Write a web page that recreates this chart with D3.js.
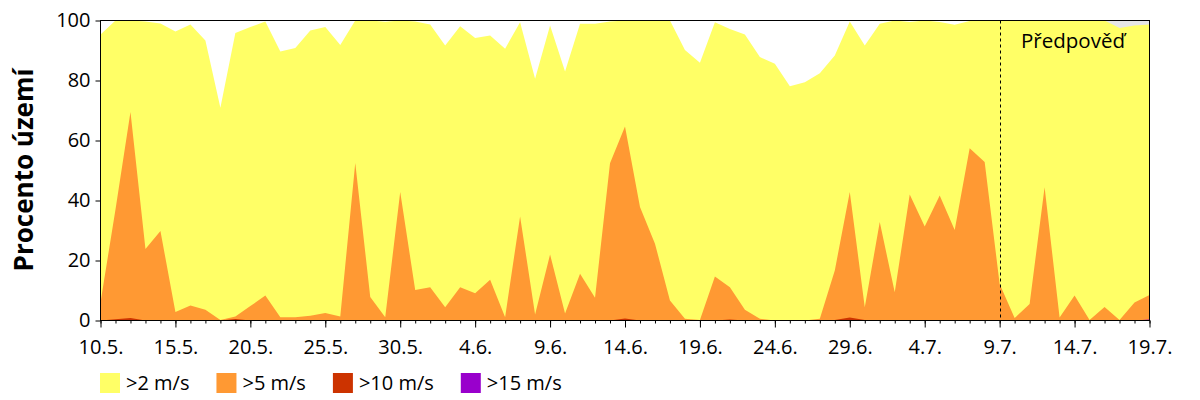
<!DOCTYPE html>
<html><head><meta charset="utf-8">
<script src="https://cdn.jsdelivr.net/npm/d3@7"></script>
<style>
body{margin:0;background:#fff}
svg{display:block}
text{font-family:"Open Sans",sans-serif;fill:#000}
</style>
</head><body>
<svg id="c" width="1200" height="400"></svg>
<script>
// ---- data ----
const startDate = new Date(2015, 4, 10);
const dates = d3.timeDay.range(startDate, new Date(2015, 6, 20)); // 10.5. .. 19.7.
const tickLabels = ["10.5.","15.5.","20.5.","25.5.","30.5.","4.6.","9.6.","14.6.","19.6.","24.6.","29.6.","4.7.","9.7.","14.7.","19.7."];
const yTicks = [0,20,40,60,80,100];
const seriesNames = [">2 m/s", ">5 m/s", ">10 m/s", ">15 m/s"];
const seriesColors = ["#FFFF66", "#FF9933", "#CC3300", "#9900CC"];
const forecastStartIndex = 60;
const forecastLabel = "Předpověď";
const yLabel = "Procento území";

const over2 = [95.3,100,100,99.7,99,96.3,98.7,93.3,70.9,95.8,
  97.8,99.7,89.7,90.8,96.7,97.8,91.8,100,100,99.6,
  100,99.7,98.7,91.7,98.1,94.2,95,90.6,99.4,80.6,
  98.3,83,98.9,98.9,99.7,100,100,100,100,90.2,
  85.9,99.4,97.2,95.3,87.8,85.6,78.1,79.4,82.4,88.3,
  99.7,91.7,98.9,100,99.5,100,99.5,98.6,99.8,100,
  100,100,100,100,100,100,100,100,97.5,98.3,98.7];
const over5 = [6,37,69.5,23.8,29.8,2.8,5,3.6,0.2,1.3,
  4.8,8.3,1.1,1.1,1.6,2.5,1.3,52.5,7.8,1.1,
  42.8,10.2,11.1,4.4,11.1,9.1,13.6,1.1,34.7,2,
  22,2.3,15.6,7.6,52.4,64.7,37.8,25.6,6.7,0.6,
  0.2,14.7,11.1,3.6,0.6,0,0,0,0.6,16.7,
  42.8,4.4,32.8,9.4,42,31.3,41.7,30.2,57.4,52.8,
  12.2,0.8,5.5,44.4,1,8.3,0.2,4.5,0.2,6,8.5];
const over10 = [0,0.4,0.8,0,0,0,0,0,0,0.5,
  0,0,0,0,0,0,0,0,0,0,
  0,0,0,0,0,0,0,0,0,0,
  0,0,0,0,0,0.7,0,0,0,0,
  0,0,0.3,0,0,0,0,0,0,0.2,
  1.0,0.2,0,0,0,0,0,0,0,0,
  0,0,0,0,0,0,0,0,0,0,0];
const over15 = [0,0,0,0,0,0,0,0,0,0,
  0,0,0,0,0,0,0,0,0,0,
  0,0,0,0,0,0,0,0,0,0,
  0,0,0,0,0,0,0,0,0,0,
  0,0,0,0,0,0,0,0,0,0,
  0,0,0,0,0,0,0,0,0,0,
  0,0,0,0,0,0,0,0,0,0,0.3];
const series = [over2, over5, over10, over15];

// ---- layout ----
const svg = d3.select("#c");
const L = 100.5, R = 1149.5, T = 20.5, B = 320.5;
const x = d3.scaleLinear().domain([0, dates.length - 1]).range([L, R]);
const y = d3.scaleLinear().domain([0, 100]).range([B, T]);

// forecast background
svg.append("rect")
  .attr("x", x(forecastStartIndex)).attr("y", y(100))
  .attr("width", x(dates.length - 1) - x(forecastStartIndex))
  .attr("height", y(0) - y(100))
  .attr("fill", "#E6E6E6");

// areas
const area = d3.area()
  .x((d, i) => x(i))
  .y0(y(0))
  .y1(d => y(d));
series.forEach((s, k) => {
  svg.append("path").datum(s)
    .attr("d", area)
    .attr("fill", seriesColors[k]);
});

// forecast divider
svg.append("line")
  .attr("x1", Math.round(x(forecastStartIndex)) + 0.5)
  .attr("x2", Math.round(x(forecastStartIndex)) + 0.5)
  .attr("y1", y(100)).attr("y2", y(0))
  .attr("stroke", "#000").attr("stroke-width", 1)
  .attr("stroke-dasharray", "3,3");

svg.append("text")
  .attr("x", 1021).attr("y", 48)
  .attr("font-size", 20.5)
  .text(forecastLabel);

// frame
svg.append("rect")
  .attr("x", L).attr("y", T)
  .attr("width", R - L).attr("height", B - T)
  .attr("fill", "none").attr("stroke", "#000").attr("stroke-width", 1);

// y axis
const yAxis = svg.append("g").attr("transform", `translate(${L},0)`)
  .call(d3.axisLeft(y).tickValues(yTicks).tickSize(5).tickPadding(5).tickFormat(d3.format("d")));
yAxis.select(".domain").remove();
yAxis.selectAll("text").attr("font-size", 20).attr("font-family", "Open Sans").attr("fill", "#000");
yAxis.selectAll("line").attr("stroke", "#000");

// x axis minor
const xMinor = svg.append("g").attr("transform", `translate(0,${B})`)
  .call(d3.axisBottom(x).tickValues(d3.range(0, dates.length)).tickSize(3).tickFormat(""));
xMinor.select(".domain").remove();
xMinor.selectAll("line").attr("stroke", "#000");

// x axis major
const xMajor = svg.append("g").attr("transform", `translate(0,${B})`)
  .call(d3.axisBottom(x).tickValues(d3.range(0, dates.length, 5)).tickSize(7).tickPadding(12)
    .tickFormat((d, i) => tickLabels[i]));
xMajor.select(".domain").remove();
xMajor.selectAll("text").attr("font-size", 20).attr("font-family", "Open Sans").attr("fill", "#000");
xMajor.selectAll("line").attr("stroke", "#000");

// y label
svg.append("text")
  .attr("transform", "translate(33,170) rotate(-90)")
  .attr("text-anchor", "middle")
  .attr("font-size", 26).attr("font-weight", "bold")
  .text(yLabel);

// legend
let lx = 100;
seriesNames.forEach((name, k) => {
  svg.append("rect").attr("x", lx).attr("y", 373).attr("width", 20).attr("height", 20)
    .attr("fill", seriesColors[k]);
  const t = svg.append("text").attr("x", lx + 26).attr("y", 390)
    .attr("font-size", 20).text(name);
  lx += 26 + t.node().getComputedTextLength() + 27;
});
</script>
</body></html>
